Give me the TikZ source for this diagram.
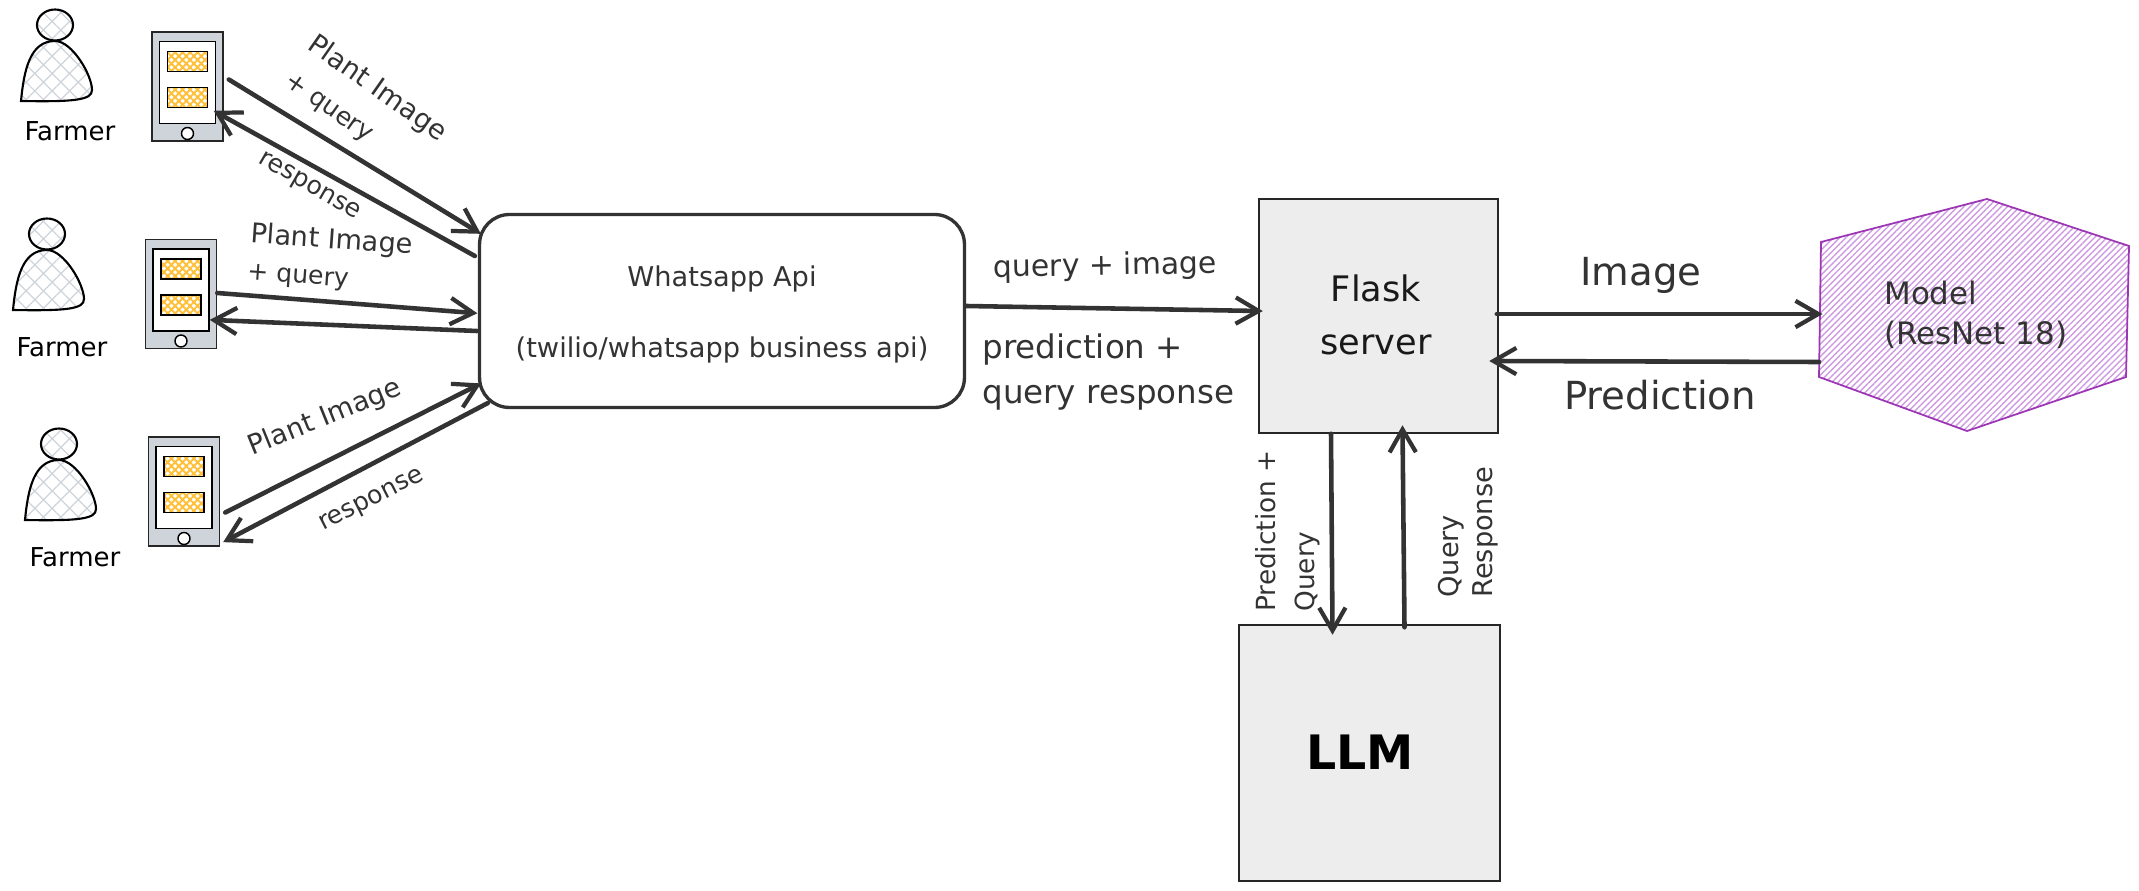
\documentclass[tikz,border=0pt]{standalone}
\usepackage{fontspec}
\setmainfont{DejaVu Sans}
\usetikzlibrary{arrows.meta,patterns.meta}
\definecolor{ink}{HTML}{333333}
\definecolor{hatchgrey}{HTML}{CED4DA}
\definecolor{boxgrey}{HTML}{EDEDED}
\definecolor{hatchyellow}{HTML}{FFC038}
\definecolor{modelpurple}{HTML}{9C36B5}
\definecolor{hatchpurple}{HTML}{CE9BE2}
\tikzset{
  flow/.style={draw=ink,line width=2.6pt,line cap=round,shorten >=-2pt,-{Straight Barb[length=13pt,width=15pt,line width=2.4pt]}},
  lbl/.style={text=ink,inner sep=0pt,align=left},
  box/.style={draw=black!85,fill=boxgrey,line width=0.9pt,inner sep=0pt},
  small/.style={font=\fontsize{15.5}{19}\selectfont},
  smaller/.style={font=\fontsize{14.3}{17}\selectfont},
  farmer/.pic={
    \draw[line width=1.2pt,pattern={Hatch[angle=45,distance=7pt,line width=0.7pt]},pattern color=hatchgrey]
      (-34,76) .. controls (-31,45) and (-25,16) .. (0,16) .. controls (17,16) and (37,50) .. (37,65)
      .. controls (37,75) and (20,77) .. (-34,76) -- cycle;
    \draw[line width=1.2pt,pattern={Hatch[angle=45,distance=7pt,line width=0.7pt]},pattern color=hatchgrey]
      (0,0) ellipse [x radius=18,y radius=15.5];
  },
  tablet/.pic={
    \node (-box) [draw=black!85,fill=hatchgrey,line width=0.9pt,minimum width=1.42cm,minimum height=2.18cm,inner sep=0pt] at (0,0) {};
    \draw[line width=1pt,fill=white] (-28,-45) rectangle (28,37);
    \draw[line width=1pt,fill=white,pattern={Hatch[angle=45,distance=3pt,line width=1.1pt]},pattern color=hatchyellow] (-20,-35) rectangle (20,-15);
    \draw[line width=1pt,fill=white,pattern={Hatch[angle=45,distance=3pt,line width=1.1pt]},pattern color=hatchyellow] (-20,1) rectangle (20,21);
    \draw[line width=0.8pt,fill=white] (0,47) circle (6);
  }
}
\begin{document}
\begin{tikzpicture}[x=0.02cm,y=-0.02cm]
  \useasboundingbox (0,0) rectangle (2139,891);

  \pic at (55,25) {farmer};
  \pic at (47,234) {farmer};
  \pic at (59,444) {farmer};
  \node (N1) [lbl,font=\fontsize{14.8}{17}\selectfont,text=black] at (70,131) {Farmer};
  \node (N2) [lbl,font=\fontsize{14.8}{17}\selectfont,text=black] at (62,347) {Farmer};
  \node (N3) [lbl,font=\fontsize{14.8}{17}\selectfont,text=black] at (75,557) {Farmer};

  \pic (T1) at (187.5,86.5) {tablet};
  \pic (T2) at (181,294) {tablet};
  \pic (T3) at (184,491.5) {tablet};

  \node (W) [draw=ink,line width=1.9pt,rounded corners=17pt,fill=white,minimum width=9.7cm,minimum height=3.86cm,inner sep=0pt] at (722,311) {};
  \node (W1) [lbl,font=\fontsize{15.5}{18}\selectfont] at (722,279) {Whatsapp Api};
  \node (W2) [lbl,font=\fontsize{15.5}{18}\selectfont] at (722,350) {(twilio/whatsapp business api)};

  \node (F) [box,minimum width=4.78cm,minimum height=4.68cm] at (1378.5,316) {};
  \node (F1) [font=\fontsize{20}{30}\selectfont,align=center,inner sep=0pt,text=black!90] at (1376,315) {Flask\\server};
  \node (L) [box,minimum width=5.22cm,minimum height=5.12cm] at (1369.5,753) {};
  \node (L1) [font=\fontsize{27}{32}\selectfont\bfseries,inner sep=0pt] at (1360,752) {LLM};

  \coordinate (H1) at (1821,242);
  \coordinate (H2) at (1987,199);
  \coordinate (H3) at (2129,246);
  \coordinate (H4) at (2126,377);
  \coordinate (H5) at (1967,431);
  \coordinate (H6) at (1819,377);
  \draw[draw=modelpurple,line width=1pt,pattern={Lines[angle=45,distance=2.5pt,line width=0.8pt]},pattern color=hatchpurple]
    (H1) -- (H2) -- (H3) -- (H4) -- (H5) -- (H6) -- cycle;
  \node (M) [lbl,font=\fontsize{17.6}{23}\selectfont,anchor=west] at (1884,315) {Model\\(ResNet 18)};

  \draw[flow] ([shift={(5,-7)}]T1-box.east) -- ([shift={(0,-79)}]W.west);
  \draw[flow] ([shift={(-3,-55)}]W.west) -- ([shift={(-7,26)}]T1-box.east);
  \draw[flow] ([shift={(0,-1)}]T2-box.east) -- ([shift={(-4,2)}]W.west);
  \draw[flow] ([shift={(-1,20)}]W.west) -- ([shift={(-4,26)}]T2-box.east);
  \draw[flow] ([shift={(5,21)}]T3-box.east) -- ([shift={(0,74)}]W.west);
  \draw[flow] ([shift={(10,92)}]W.west) -- ([shift={(6,49)}]T3-box.east);
  \draw[flow] ([shift={(0,-5)}]W.east) -- ([shift={(1,-5)}]F.west);
  \draw[flow] ([shift={(-2,-2)}]F.east) -- (H6 |- 0,314);
  \draw[flow] (H6 |- 0,362) -- ([shift={(-6,45)}]F.east);
  \draw[flow] ([xshift=-47.5*0.02cm]F.south) -- ([shift={(-37,7)}]L.north);
  \draw[flow] ([shift={(35,3)}]L.north) -- ([shift={(24,-5)}]F.south);

  \node (A1) [lbl,small,rotate=-35] at (377,89) {Plant Image};
  \node (A2) [lbl,smaller,rotate=-35] at (328,109) {+ query};
  \node (A3) [lbl,smaller,rotate=-30] at (309,187) {response};
  \node (A4) [lbl,small,rotate=-4] at (332,241) {Plant Image};
  \node (A5) [lbl,smaller,rotate=-4] at (298,278) {+ query};
  \node (A6) [lbl,small,rotate=22] at (325,418) {Plant Image};
  \node (A7) [lbl,smaller,rotate=27] at (372,501) {response};
  \node (A8) [lbl,font=\fontsize{17}{20}\selectfont,rotate=1] at (1105,267) {query + image};
  \node (A9) [lbl,font=\fontsize{18.5}{25.6}\selectfont,anchor=west] at (982,372) {prediction +\\query response};
  \node (A10) [lbl,font=\fontsize{22}{26}\selectfont] at (1641,275) {Image};
  \node (A11) [lbl,font=\fontsize{22}{26}\selectfont] at (1660,395) {Prediction};
  \node (A12) [lbl,rotate=90,anchor=south west,font=\fontsize{15}{22}\selectfont] at (1320,612) {Prediction +\\Query};
  \node (A13) [lbl,rotate=90,anchor=south west,font=\fontsize{15.5}{19}\selectfont] at (1498,598) {Query\\Response};
\end{tikzpicture}
\end{document}
